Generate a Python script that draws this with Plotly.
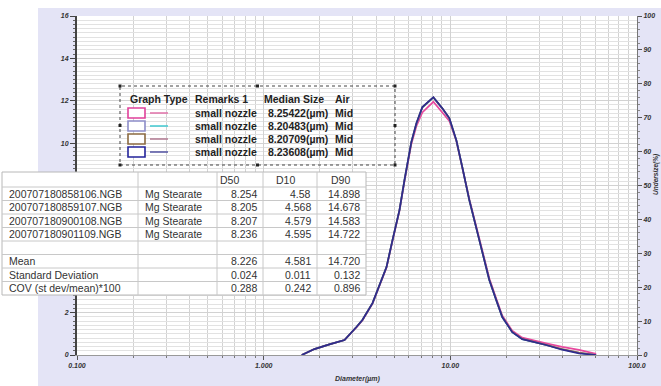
import plotly.graph_objects as go

W, H = 661, 386

# ---------------- data ----------------
diameter_um = [1.60, 1.87, 2.25, 2.71, 3.14, 3.38, 3.83, 4.55, 4.90, 5.34, 5.68, 6.18, 6.58, 7.08,
               8.11, 9.06, 9.88, 10.77, 11.59, 12.64, 14.30, 16.17, 17.62, 18.97, 21.46, 24.27,
               32.6, 39.7, 48.9, 60.4]

q_pink = [0, 0.28, 0.50, 0.71, 1.30, 1.63, 2.43, 4.12, 5.38, 6.80, 8.20, 9.95, 10.80, 11.45,
          11.95, 11.45, 11.05, 10.10, 8.85, 7.35, 5.50, 3.62, 2.66, 1.86, 1.15, 0.82, 0.55, 0.38, 0.24, 0.05]
q_cyan = [0, 0.28, 0.50, 0.71, 1.32, 1.65, 2.45, 4.15, 5.42, 6.84, 8.25, 10.05, 10.92, 11.68,
          12.15, 11.63, 11.16, 10.12, 8.86, 7.30, 5.42, 3.54, 2.59, 1.79, 1.08, 0.75, 0.47, 0.27, 0.10, 0]
q_brown = [0, 0.28, 0.50, 0.71, 1.32, 1.65, 2.45, 4.15, 5.42, 6.84, 8.25, 10.04, 10.93, 11.69,
           12.16, 11.64, 11.17, 10.13, 8.86, 7.31, 5.42, 3.55, 2.60, 1.80, 1.09, 0.76, 0.48, 0.28, 0.11, 0]
q_navy = [0, 0.28, 0.50, 0.71, 1.32, 1.65, 2.45, 4.15, 5.42, 6.84, 8.25, 10.05, 10.94, 11.70,
          12.17, 11.65, 11.18, 10.14, 8.87, 7.31, 5.42, 3.54, 2.59, 1.79, 1.08, 0.75, 0.47, 0.25, 0.08, 0]

x_tick_vals = [0.1, 1, 10, 100]
x_tick_text = ["0.100", "1.000", "10.00", "100.0"]
x_minor_vals = [m * d for d in (0.1, 1, 10) for m in range(2, 10)]
y_tick_vals = [0, 2, 4, 6, 8, 10, 12, 14, 16]
y_tick_text = ["0", "2", "", "", "", "10", "12", "14", "16"]  # 4-8 are hidden behind the table

legend_header = ["Graph Type", "Remarks 1", "Median Size", "Air"]
legend_remarks = ["small nozzle", "small nozzle", "small nozzle", "small nozzle"]
legend_median = ["8.25422(µm)", "8.20483(µm)", "8.20709(µm)", "8.23608(µm)"]
legend_air = ["Mid", "Mid", "Mid", "Mid"]

table_header = ["", "", "D50", "D10", "D90"]
table_names = ["200707180858106.NGB", "200707180859107.NGB", "200707180900108.NGB",
               "200707180901109.NGB", "", "Mean", "Standard Deviation", "COV (st dev/mean)*100"]
table_material = ["Mg Stearate", "Mg Stearate", "Mg Stearate", "Mg Stearate", "", "", "", ""]
table_d50 = ["8.254", "8.205", "8.207", "8.236", "", "8.226", "0.024", "0.288"]
table_d10 = ["4.58", "4.568", "4.579", "4.595", "", "4.581", "0.011", "0.242"]
table_d90 = ["14.898", "14.678", "14.583", "14.722", "", "14.720", "0.132", "0.896"]

# ---------------- helpers ----------------
def px(x):
    return x / W

def py(y):
    return 1 - y / H

series = [
    ("pink", q_pink, "#e8489e"),
    ("cyan", q_cyan, "#3cc8d4"),
    ("brown", q_brown, "#9a6a50"),
    ("navy", q_navy, "#2e2b8f"),
]
icon_colors = ["#e0409a", "#8c8cc8", "#8a6a40", "#23239a"]
line_colors = ["#e070a8", "#40c8d0", "#b07890", "#5050a0"]

fig = go.Figure()
for name, vals, col in series:
    fig.add_trace(go.Scatter(x=diameter_um, y=vals, mode="lines", name=name,
                             line=dict(color=col, width=1.7), xaxis="x", yaxis="y",
                             hoverinfo="skip"))

# dummy trace to activate right axis
fig.add_trace(go.Scatter(x=[None], y=[None], xaxis="x", yaxis="y2", showlegend=False))

tick_font = dict(family="Liberation Sans", size=7, color="#333", weight="bold", style="italic")
grid_col = "#d2d2d2"

fig.update_layout(
    width=W, height=H,
    margin=dict(l=0, r=0, t=0, b=0),
    paper_bgcolor="white", plot_bgcolor="white",
    showlegend=False,
    xaxis=dict(domain=[px(77), px(637)], type="log", range=[-1, 2],
               tickmode="array", tickvals=x_tick_vals, ticktext=x_tick_text,
               tickfont=tick_font, ticks="outside", ticklen=4, tickcolor="#555",
               showgrid=True, gridcolor=grid_col, gridwidth=1,
               showline=True, linecolor="#999", linewidth=1, zeroline=False,
               minor=dict(tickmode="array", tickvals=x_minor_vals, ticks="outside",
                          ticklen=2, tickcolor="#777", showgrid=True, gridcolor=grid_col),
               automargin=False),
    yaxis=dict(domain=[31 / H, 1 - 16 / H], range=[0, 16],
               tickmode="array", tickvals=y_tick_vals, ticktext=y_tick_text,
               tickfont=tick_font, ticks="outside", ticklen=5, tickcolor="#444",
               showgrid=True, gridcolor=grid_col, showline=True, linecolor="#444",
               linewidth=2, zeroline=False,
               minor=dict(dtick=0.2, ticks="outside", ticklen=2, tickcolor="#666",
                          showgrid=True, gridcolor="#e2e2e2"),
               automargin=False),
    yaxis2=dict(overlaying="y", side="right", range=[0, 100], dtick=10,
                tickfont=tick_font, ticks="outside", ticklen=4, tickcolor="#555",
                showgrid=False, showline=True, linecolor="#777", linewidth=1, zeroline=False,
                minor=dict(dtick=2, ticks="outside", ticklen=2, tickcolor="#888"),
                automargin=False),
)

shapes = []
annotations = []
# lavender panel and white plot area
shapes.append(dict(type="rect", xref="paper", yref="paper", x0=px(38), x1=1, y0=0, y1=py(8),
                   fillcolor="#e4e4f6", line=dict(width=0), layer="below"))
shapes.append(dict(type="rect", xref="paper", yref="paper", x0=px(77), x1=px(637), y0=py(355), y1=py(16),
                   fillcolor="white", line=dict(width=0), layer="below"))

# legend box
bx0, bx1, by0, by1 = 120, 395, 86, 165
shapes.append(dict(type="rect", xref="paper", yref="paper", x0=px(bx0), x1=px(bx1), y0=py(by1), y1=py(by0),
                   line=dict(color="#444", width=1, dash="dot"), fillcolor="rgba(0,0,0,0)"))
for hx, hy in [(bx0, by0), ((bx0 + bx1) / 2, by0), (bx1, by0), (bx0, (by0 + by1) / 2),
               (bx1, (by0 + by1) / 2), (bx0, by1), ((bx0 + bx1) / 2, by1), (bx1, by1)]:
    shapes.append(dict(type="rect", xref="paper", yref="paper", x0=px(hx - 1.5), x1=px(hx + 1.5),
                       y0=py(hy + 1.5), y1=py(hy - 1.5), fillcolor="#222", line=dict(width=0)))

row_y = [113, 126, 139, 152]
bold_font = dict(family="Liberation Sans", size=10.5, color="#222", weight="bold")
for hx, txt in zip([128, 193, 262, 333], legend_header):
    annotations.append(dict(xref="paper", yref="paper", x=px(hx), y=py(99), text=txt, showarrow=False,
                            xanchor="left", yanchor="middle", font=bold_font))
for i, ry in enumerate(row_y):
    shapes.append(dict(type="rect", xref="paper", yref="paper", x0=px(128), x1=px(145),
                       y0=py(ry + 5), y1=py(ry - 5), fillcolor="white",
                       line=dict(color=icon_colors[i], width=1.6)))
    shapes.append(dict(type="line", xref="paper", yref="paper", x0=px(150), x1=px(168),
                       y0=py(ry), y1=py(ry), line=dict(color=line_colors[i], width=1.5)))
    for hx, txt in zip([193, 266, 333], [legend_remarks[i], legend_median[i], legend_air[i]]):
        annotations.append(dict(xref="paper", yref="paper", x=px(hx), y=py(ry), text=txt, showarrow=False,
                                xanchor="left", yanchor="middle", font=bold_font))

# ---------------- data table (drawn with shapes + text) ----------------
col_edges = [2, 138, 217, 263, 317, 366]
t_top, head_h, row_h = 172, 15, 13.5
row_edges = [t_top, t_top + head_h] + [t_top + head_h + row_h * (k + 1) for k in range(len(table_names))]
t_bot = row_edges[-1]
shapes.append(dict(type="rect", xref="paper", yref="paper", x0=px(col_edges[0]), x1=px(col_edges[-1]),
                   y0=py(t_bot), y1=py(t_top), fillcolor="white", line=dict(color="#b8b8b8", width=1)))
for ry in row_edges[1:-1]:
    shapes.append(dict(type="line", xref="paper", yref="paper", x0=px(col_edges[0]), x1=px(col_edges[-1]),
                       y0=py(ry), y1=py(ry), line=dict(color="#c8c8c8", width=1)))
for cx in col_edges[1:-1]:
    shapes.append(dict(type="line", xref="paper", yref="paper", x0=px(cx), x1=px(cx),
                       y0=py(t_bot), y1=py(t_top), line=dict(color="#c8c8c8", width=1)))

tfont = dict(family="Liberation Sans", size=10.5, color="#333")
head_centers = [None, None, 229, 285, 340]
for j, txt in enumerate(table_header):
    if txt:
        annotations.append(dict(xref="paper", yref="paper", x=px(head_centers[j]),
                                y=py((row_edges[0] + row_edges[1]) / 2), text=txt, showarrow=False,
                                xanchor="center", yanchor="middle", font=tfont))
columns = [table_names, table_material, table_d50, table_d10, table_d90]
for j, col in enumerate(columns):
    for i, txt in enumerate(col):
        if not txt:
            continue
        yc = py((row_edges[i + 1] + row_edges[i + 2]) / 2)
        if j < 2:
            annotations.append(dict(xref="paper", yref="paper", x=px(col_edges[j] + 5), y=yc, text=txt,
                                    showarrow=False, xanchor="left", yanchor="middle", font=tfont))
        else:
            annotations.append(dict(xref="paper", yref="paper", x=px(col_edges[j + 1] - 4), y=yc, text=txt,
                                    showarrow=False, xanchor="right", yanchor="middle", font=tfont))

# axis titles
annotations.append(dict(xref="paper", yref="paper", x=px(333), y=py(379), text="Diameter(µm)",
                        showarrow=False, xanchor="left", yanchor="middle", font=tick_font))
annotations.append(dict(xref="paper", yref="paper", x=px(656), y=py(175), text="Undersize(%)",
                        showarrow=False, xanchor="center", yanchor="middle", textangle=-90,
                        font=dict(family="Liberation Sans", size=6.5, color="#333", weight="bold",
                                  style="italic")))

fig.update_layout(shapes=shapes, annotations=annotations)

fig.write_html("out.html", config={"displayModeBar": False},
               post_script="document.body.style.margin='0px';document.body.style.overflow='hidden';")
